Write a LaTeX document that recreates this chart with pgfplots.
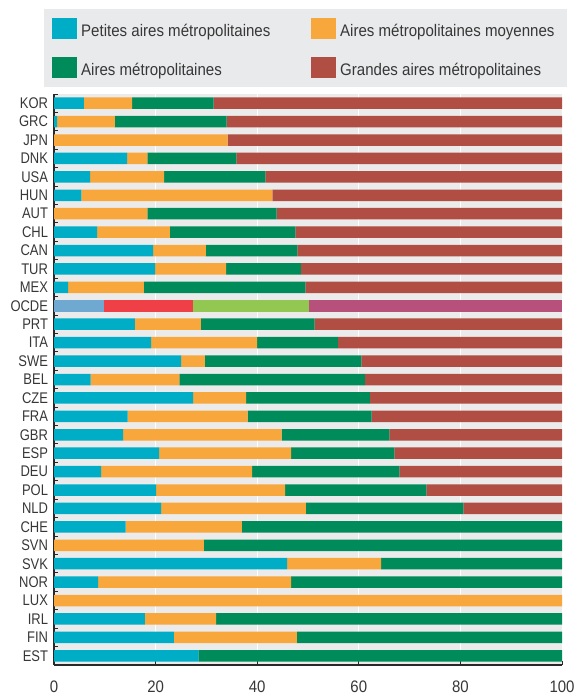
\documentclass[border=0pt]{standalone}
\usepackage{fontspec}
\setmainfont{Liberation Sans}[FakeStretch=0.9]
\newfontfamily\ylabfont{Liberation Sans}[FakeStretch=0.84]
\usepackage{pgfplots}
\usepackage{pgfplotstable}
\pgfplotsset{compat=1.18}
\definecolor{cblue}{RGB}{0,173,198}
\definecolor{corange}{RGB}{248,167,60}
\definecolor{cgreen}{RGB}{0,140,90}
\definecolor{cred}{RGB}{176,78,68}
\definecolor{oblue}{RGB}{111,168,208}
\definecolor{ored}{RGB}{238,64,70}
\definecolor{ogreen}{RGB}{146,200,82}
\definecolor{omag}{RGB}{183,80,122}
\definecolor{bggray}{RGB}{235,235,236}
\definecolor{leggray}{RGB}{233,234,236}
\definecolor{txtgray}{RGB}{55,55,55}
\definecolor{axisgray}{RGB}{40,40,40}
\pgfplotstableread{
name s m l g os om ol og
KOR 5.9 9.5 16.0 68.6 0 0 0 0
GRC 0.6 11.4 22.0 66.0 0 0 0 0
JPN 0 34.2 0 65.8 0 0 0 0
DNK 14.4 4.0 17.5 64.1 0 0 0 0
USA 7.1 14.6 19.9 58.4 0 0 0 0
HUN 5.4 37.6 0 57.0 0 0 0 0
AUT 0 18.4 25.4 56.2 0 0 0 0
CHL 8.5 14.3 24.7 52.5 0 0 0 0
CAN 19.5 10.4 18.0 52.1 0 0 0 0
TUR 19.9 14.0 14.7 51.4 0 0 0 0
MEX 2.8 14.9 31.8 50.5 0 0 0 0
OCDE 0 0 0 0 9.8 17.6 22.8 49.8
PRT 15.9 13.0 22.4 48.7 0 0 0 0
ITA 19.1 20.9 15.9 44.1 0 0 0 0
SWE 25.0 4.7 30.8 39.5 0 0 0 0
BEL 7.2 17.5 36.5 38.8 0 0 0 0
CZE 27.4 10.4 24.4 37.8 0 0 0 0
FRA 14.5 23.6 24.4 37.5 0 0 0 0
GBR 13.6 31.2 21.2 34.0 0 0 0 0
ESP 20.7 26.0 20.3 33.0 0 0 0 0
DEU 9.3 29.7 29.0 32.0 0 0 0 0
POL 20.1 25.4 27.8 26.7 0 0 0 0
NLD 21.1 28.5 31.0 19.4 0 0 0 0
CHE 14.1 22.9 63.0 0 0 0 0 0
SVN 0 29.5 70.5 0 0 0 0 0
SVK 45.9 18.5 35.6 0 0 0 0 0
NOR 8.7 38.0 53.3 0 0 0 0 0
LUX 0 100 0 0 0 0 0 0
IRL 17.9 14.0 68.1 0 0 0 0 0
FIN 23.6 24.2 52.2 0 0 0 0 0
EST 28.4 0 71.6 0 0 0 0 0
}\data
\begin{document}
\begin{tikzpicture}
\useasboundingbox (-54bp,-35bp) rectangle (534bp,665bp);
\begin{axis}[
  at={(0,0)}, anchor=south west,
  scale only axis, width=508bp, height=571bp,
  xbar stacked, bar width=11.5bp,
  xmin=0, xmax=100, ymin=-0.5, ymax=30.5, y dir=reverse,
  axis background/.style={fill=bggray},
  axis x line*=bottom, axis y line*=left,
  axis line style={line width=1.7bp, draw=axisgray, -},
  xtick={0,20,...,100},
  ytick={-0.5,0.5,...,30.5}, yticklabels={},
  extra y ticks={0,1,...,30},
  extra y tick labels={KOR,GRC,JPN,DNK,USA,HUN,AUT,CHL,CAN,TUR,MEX,OCDE,PRT,ITA,SWE,BEL,CZE,FRA,GBR,ESP,DEU,POL,NLD,CHE,SVN,SVK,NOR,LUX,IRL,FIN,EST},
  extra y tick style={major tick length=0pt, yticklabel style={font=\ylabfont\fontsize{15.5}{17}\selectfont, text=txtgray, xshift=-2.5bp}},
  tick align=inside,
  major tick length=4bp,
  tick style={line width=1bp, draw=axisgray},
  xmajorgrids, major grid style={draw=white, line width=1bp},
  /pgf/number format/assume math mode=true,
  xticklabel style={font=\fontsize{16.7}{18}\selectfont, text=txtgray, yshift=-12.5bp},
  legend columns=2,
  legend image code/.code={\path (0bp,-10.8bp) rectangle (25bp,10.8bp); \fill[#1] (0bp,-6bp) rectangle (25bp,6bp);},
  legend style={at={(axis description cs:0,1)}, anchor=south west, xshift=-10bp, yshift=7bp,
    draw=none, fill=leggray, inner xsep=8bp, inner ysep=8.7bp,
    column sep=4bp, row sep=17.4bp, nodes={inner sep=0pt},
    font=\fontsize{16.8}{20}\selectfont, text=txtgray},
  legend cell align=left,
]
\addplot[fill=cblue, draw=none] table[x=s, y expr=\coordindex] {\data};
\addlegendentry{\makebox[226bp][l]{\rule[-4bp]{0pt}{21.6bp}Petites aires métropolitaines}}
\addplot[fill=corange, draw=none] table[x=m, y expr=\coordindex] {\data};
\addlegendentry{\makebox[219bp][l]{\rule[-4bp]{0pt}{21.6bp}Aires métropolitaines moyennes}}
\addplot[fill=cgreen, draw=none] table[x=l, y expr=\coordindex] {\data};
\addlegendentry{\makebox[226bp][l]{\rule[-4bp]{0pt}{21.6bp}Aires métropolitaines}}
\addplot[fill=cred, draw=none] table[x=g, y expr=\coordindex] {\data};
\addlegendentry{\makebox[219bp][l]{\rule[-4bp]{0pt}{21.6bp}Grandes aires métropolitaines}}
\addplot[fill=oblue, draw=none] table[x=os, y expr=\coordindex] {\data};
\addplot[fill=ored, draw=none] table[x=om, y expr=\coordindex] {\data};
\addplot[fill=ogreen, draw=none] table[x=ol, y expr=\coordindex] {\data};
\addplot[fill=omag, draw=none] table[x=og, y expr=\coordindex] {\data};
\end{axis}
\end{tikzpicture}
\end{document}
